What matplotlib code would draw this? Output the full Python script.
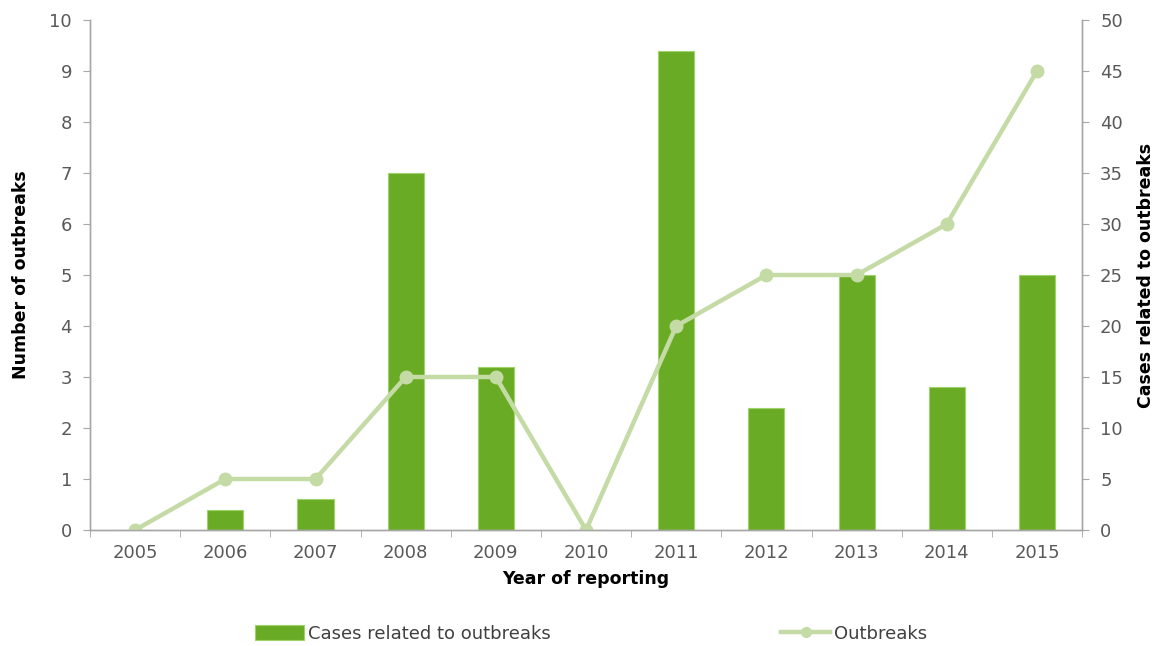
import numpy as np
import matplotlib.pyplot as plt
from matplotlib.ticker import MultipleLocator

plt.rcParams['font.family'] = 'DejaVu Sans'
plt.rcParams['font.size'] = 12

years = ['2005', '2006', '2007', '2008', '2009', '2010',
         '2011', '2012', '2013', '2014', '2015']
cases = [0, 2, 3, 35, 16, 0, 47, 12, 25, 14, 25]
outbreaks = [0, 1, 1, 3, 3, 0, 4, 5, 5, 6, 9]

bar_color = '#6aab26'
line_color = '#c4dba6'
tick_color = '#595959'
spine_color = '#a6a6a6'

fig = plt.figure(figsize=(11.59, 6.46), dpi=100)
ax = fig.add_axes([0.0777, 0.1796, 0.8559, 0.7894])
ax2 = ax.twinx()

x = np.arange(len(years))

ax2.bar(x, cases, width=0.4, color=bar_color, edgecolor='#9fd36a',
        linewidth=0.8, label='Cases related to outbreaks')
ax.plot(x, outbreaks, color=line_color, lw=3.2, marker='o', ms=9,
        label='Outbreaks')

# line drawn above the bars
ax.set_zorder(ax2.get_zorder() + 1)
ax.patch.set_visible(False)

ax.set_xlim(-0.5, len(years) - 0.5)
ax.set_ylim(0, 10)
ax.set_yticks(np.arange(0, 11, 1))
ax2.set_ylim(0, 50)
ax2.set_yticks(np.arange(0, 51, 5))

ax.set_xticks(x)
ax.set_xticklabels(years)
ax.xaxis.set_minor_locator(MultipleLocator(1, offset=0.5))
ax.tick_params(axis='x', which='major', length=0, pad=10, colors=tick_color, labelsize=13)
ax.tick_params(axis='x', which='minor', length=5, color=spine_color)
ax.tick_params(axis='y', length=5, color=spine_color, labelcolor=tick_color, labelsize=13, pad=8)
ax2.tick_params(axis='y', length=5, color=spine_color, labelcolor=tick_color, labelsize=13, pad=8)

for a in (ax, ax2):
    a.spines['top'].set_visible(False)
    for s in ('left', 'right', 'bottom'):
        a.spines[s].set_color(spine_color)
        a.spines[s].set_linewidth(1.0)

ax.set_xlabel('Year of reporting', fontweight='bold', fontsize=12.5, labelpad=6)
ax.set_ylabel('Number of outbreaks', fontweight='bold', fontsize=12.5, labelpad=14)
ax2.set_ylabel('Cases related to outbreaks', fontweight='bold', fontsize=12.5, labelpad=10)

h1, l1 = ax2.get_legend_handles_labels()
h2, l2 = ax.get_legend_handles_labels()
leg = fig.legend(h1 + h2, l1 + l2, loc='lower center', ncol=2, frameon=False,
                 bbox_to_anchor=(0.51, -0.02), columnspacing=12.8, handlelength=2.7,
                 handleheight=0.9, handletextpad=0.2, fontsize=13, labelcolor='#404040')
leg.legend_handles[1].set_markersize(7)

plt.savefig('out.png', dpi=100)
